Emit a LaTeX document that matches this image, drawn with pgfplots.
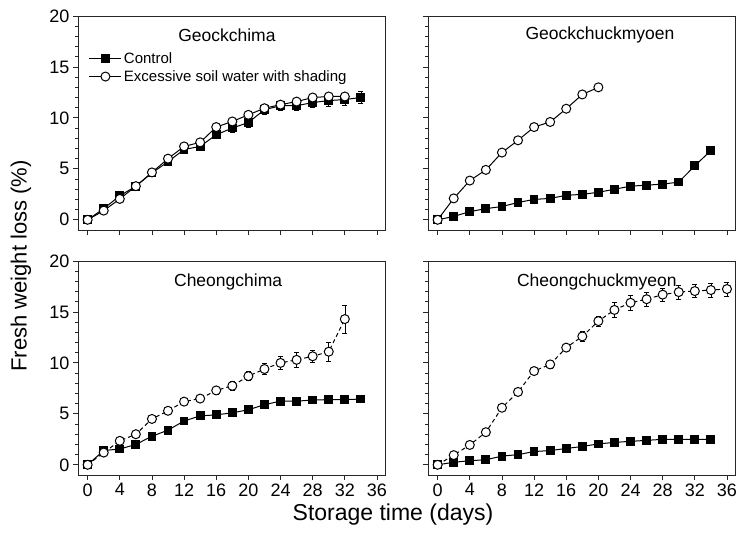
\documentclass[border=0pt]{standalone}
\usepackage{fontspec}
\setmainfont{Liberation Sans}
\usepackage{pgfplots}
\usepackage{pgfplotstable}
\pgfplotsset{compat=1.18}

% x = day, y = fresh weight loss (%), e = error
\pgfplotstableread{
x y e
0 0 0
2 1.1 0.15
4 2.35 0.2
6 3.3 0.2
8 4.6 0.2
10 5.7 0.25
12 6.9 0.25
14 7.2 0.3
16 8.35 0.35
18 9.0 0.4
20 9.55 0.45
22 10.8 0.4
24 11.2 0.45
26 11.2 0.5
28 11.5 0.5
30 11.7 0.55
32 11.8 0.55
34 12.0 0.6
}\tlc
\pgfplotstableread{
x y e
0 0 0
2 0.9 0.1
4 2.05 0.1
6 3.3 0.1
8 4.65 0.1
10 6.0 0.15
12 7.2 0.15
14 7.6 0.15
16 9.1 0.2
18 9.65 0.3
20 10.3 0.35
22 10.95 0.3
24 11.3 0.3
26 11.6 0.3
28 12.0 0.3
30 12.1 0.3
32 12.1 0.3
}\tle
\pgfplotstableread{
x y e
0 0 0
2 0.33 0.1
4 0.8 0.1
6 1.1 0.1
8 1.3 0.1
10 1.7 0.1
12 2.0 0.1
14 2.1 0.1
16 2.4 0.1
18 2.5 0.1
20 2.7 0.1
22 3.0 0.1
24 3.3 0.1
26 3.4 0.1
28 3.5 0.1
30 3.7 0.1
32 5.3 0.2
34 6.8 0.3
}\trc
\pgfplotstableread{
x y e
0 0 0
2 2.1 0.1
4 3.85 0.1
6 4.9 0.1
8 6.6 0.25
10 7.8 0.25
12 9.1 0.25
14 9.6 0.25
16 10.9 0.25
18 12.3 0.25
20 13.0 0.25
}\tre
\pgfplotstableread{
x y e
0 0 0
2 1.4 0.1
4 1.55 0.1
6 2.0 0.1
8 2.8 0.1
10 3.4 0.1
12 4.3 0.15
14 4.8 0.15
16 4.9 0.15
18 5.1 0.15
20 5.4 0.15
22 5.9 0.15
24 6.25 0.15
26 6.25 0.15
28 6.35 0.15
30 6.4 0.15
32 6.4 0.15
34 6.45 0.15
}\blc
\pgfplotstableread{
x y e
0 0 0
2 1.2 0.1
4 2.35 0.3
6 3.0 0.3
8 4.5 0.2
10 5.3 0.2
12 6.2 0.2
14 6.5 0.3
16 7.3 0.35
18 7.75 0.45
20 8.7 0.45
22 9.4 0.55
24 10.0 0.6
26 10.3 0.7
28 10.65 0.6
30 11.1 0.9
32 14.3 1.4
}\ble
\pgfplotstableread{
x y e
0 0 0
2 0.25 0.1
4 0.4 0.1
6 0.5 0.1
8 0.85 0.1
10 1.0 0.1
12 1.3 0.1
14 1.4 0.1
16 1.6 0.1
18 1.8 0.1
20 2.05 0.1
22 2.2 0.1
24 2.3 0.1
26 2.4 0.1
28 2.5 0.1
30 2.5 0.1
32 2.5 0.1
34 2.5 0.1
}\brc
\pgfplotstableread{
x y e
0 0 0
2 0.95 0.1
4 1.95 0.1
6 3.2 0.3
8 5.6 0.2
10 7.15 0.2
12 9.2 0.35
14 9.85 0.4
16 11.5 0.3
18 12.6 0.5
20 14.1 0.5
22 15.2 0.7
24 15.9 0.7
26 16.25 0.7
28 16.7 0.65
30 16.95 0.7
32 17.05 0.65
34 17.15 0.7
36 17.25 0.7
}\bre

\tikzset{ttl/.style={font=\fontsize{17.5}{20}\selectfont}}
\pgfplotsset{
  panel/.style={
    scale only axis, width=307pt, height=214pt,
    xmin=-1.2, xmax=37, ymin=-1, ymax=20,
    xtick={0,4,...,36}, ytick={0,5,...,20}, minor y tick num=4,
    tick pos=left, tick align=outside,
    major tick length=5pt, minor tick length=3pt,
    axis line style={line width=0.8pt, black!85},
    every tick/.style={line width=0.8pt, black!85},
    tick label style={font=\fontsize{18}{20}\selectfont},
    /pgf/number format/assume math mode=true,
    clip=false,
  },
  ctrl/.style={black, line width=1pt, mark=square*, mark size=3.9pt,
    mark options={solid, fill=black},
    error bars/.cd, y dir=both, y explicit,
    error bar style={line width=0.6pt, solid},
    error mark options={rotate=90, mark size=2.5pt, line width=0.6pt, solid}},
  exc/.style={black, line width=1pt, mark=*, mark size=4.5pt,
    mark options={solid, fill=white},
    error bars/.cd, y dir=both, y explicit,
    error bar style={line width=0.6pt, solid},
    error mark options={rotate=90, mark size=2.5pt, line width=0.6pt, solid}},
}

\begin{document}
\begin{tikzpicture}
\useasboundingbox (0,0) rectangle (739pt,540pt);

% top left
\begin{axis}[panel, at={(78pt,310pt)}, anchor=south west, xticklabels={},
  legend style={draw=none, fill=none, at={(0.035,0.835)}, anchor=north west,
    font=\fontsize{15}{17}\selectfont, inner sep=0pt, row sep=3.5pt,
    nodes={inner xsep=2pt, inner ysep=1pt}},
  legend cell align=left,
  legend image code/.code={\draw[mark repeat=2, mark phase=2, #1]
    plot coordinates {(0pt,0pt) (16pt,0pt) (32pt,0pt)};}]
  \addplot[ctrl] table[x=x, y=y, y error=e] {\tlc};
  \addlegendentry{Control}
  \addplot[exc] table[x=x, y=y, y error=e] {\tle};
  \addlegendentry{Excessive soil water with shading}
  \node[ttl] at (rel axis cs:0.485,0.91) {Geockchima};
\end{axis}

% top right
\begin{axis}[panel, at={(428pt,310pt)}, anchor=south west, xticklabels={}, yticklabels={}]
  \addplot[ctrl] table[x=x, y=y, y error=e] {\trc};
  \addplot[exc] table[x=x, y=y, y error=e] {\tre};
  \node[ttl] at (rel axis cs:0.56,0.91) {Geockchuckmyoen};
\end{axis}

% bottom left
\begin{axis}[panel, at={(78pt,65pt)}, anchor=south west]
  \addplot[ctrl] table[x=x, y=y, y error=e] {\blc};
  \addplot[dash pattern=on 4pt off 3pt, exc] table[x=x, y=y, y error=e] {\ble};
  \node[ttl] at (rel axis cs:0.489,0.9) {Cheongchima};
\end{axis}

% bottom right
\begin{axis}[panel, at={(428pt,65pt)}, anchor=south west, yticklabels={}]
  \addplot[ctrl] table[x=x, y=y, y error=e] {\brc};
  \addplot[dash pattern=on 4pt off 3pt, exc] table[x=x, y=y, y error=e] {\bre};
  \node[ttl] at (rel axis cs:0.55,0.9) {Cheongchuckmyeon};
\end{axis}

\node[font=\fontsize{23}{26}\selectfont] at (393pt,25pt) {Storage time (days)};
\node[font=\fontsize{22}{25}\selectfont, rotate=90] at (21pt,274pt) {Fresh weight loss (\%)};
\end{tikzpicture}
\end{document}
